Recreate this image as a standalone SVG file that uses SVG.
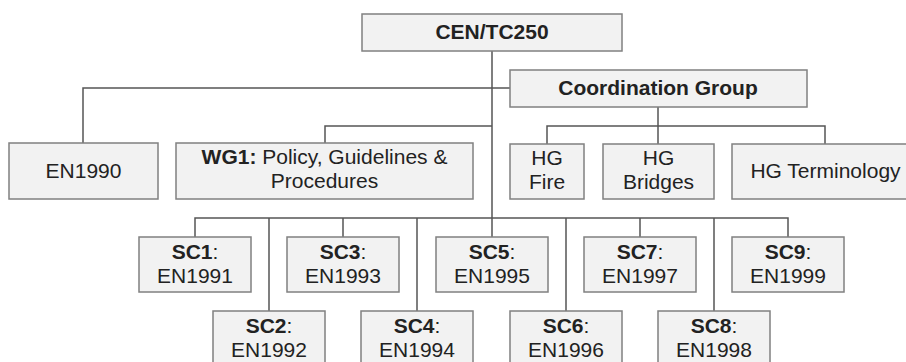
<svg xmlns="http://www.w3.org/2000/svg" width="906" height="362" viewBox="0 0 906 362">
<style>
.box{fill:#f2f2f2;stroke:#808080;stroke-width:1.5}
.c{fill:none;stroke:#555;stroke-width:1.5}
text{font-family:"Liberation Sans",Arial,sans-serif;font-size:21px;fill:#222;text-anchor:middle}
.b{font-weight:bold}
</style>
<rect width="906" height="362" fill="#fff"/>
<g id="connectors">
<path class="c" d="M492 51V237"/>
<path class="c" d="M83 143V88H510"/>
<path class="c" d="M325 143V126H492"/>
<path class="c" d="M658 107V144M547 144V126H825V144"/>
<path class="c" d="M195 237V218H788V237M269 218V311M343 218V237M417 218V311M566 218V311M640 218V237M714 218V311"/>
</g>
<g id="cen"><rect class="box" x="362" y="14" width="260" height="37"/><text class="b" x="492" y="39">CEN/TC250</text></g>
<g id="coord"><rect class="box" x="510" y="70" width="297" height="37"/><text class="b" x="658" y="95">Coordination Group</text></g>
<g id="en1990"><rect class="box" x="9" y="143" width="149" height="56"/><text x="83.5" y="178">EN1990</text></g>
<g id="wg1"><rect class="box" x="176" y="143" width="297" height="56"/><text x="324.5" y="164"><tspan class="b">WG1:</tspan> Policy, Guidelines &amp;</text><text x="324.5" y="188">Procedures</text></g>
<g id="hgfire"><rect class="box" x="510" y="144" width="74" height="55"/><text x="547" y="165">HG</text><text x="547" y="189">Fire</text></g>
<g id="hgbridges"><rect class="box" x="603" y="144" width="111" height="55"/><text x="658.5" y="165">HG</text><text x="658.5" y="189">Bridges</text></g>
<g id="hgterm"><rect class="box" x="732" y="144" width="187" height="55"/><text x="825.5" y="178">HG Terminology</text></g>
<g id="sc1"><rect class="box" x="139" y="237" width="112" height="55"/><text x="195" y="259"><tspan class="b">SC1</tspan>:</text><text x="195" y="283">EN1991</text></g>
<g id="sc2"><rect class="box" x="213" y="311" width="112" height="55"/><text x="269" y="333"><tspan class="b">SC2</tspan>:</text><text x="269" y="357">EN1992</text></g>
<g id="sc3"><rect class="box" x="287" y="237" width="112" height="55"/><text x="343" y="259"><tspan class="b">SC3</tspan>:</text><text x="343" y="283">EN1993</text></g>
<g id="sc4"><rect class="box" x="361" y="311" width="112" height="55"/><text x="417" y="333"><tspan class="b">SC4</tspan>:</text><text x="417" y="357">EN1994</text></g>
<g id="sc5"><rect class="box" x="436" y="237" width="112" height="55"/><text x="492" y="259"><tspan class="b">SC5</tspan>:</text><text x="492" y="283">EN1995</text></g>
<g id="sc6"><rect class="box" x="510" y="311" width="112" height="55"/><text x="566" y="333"><tspan class="b">SC6</tspan>:</text><text x="566" y="357">EN1996</text></g>
<g id="sc7"><rect class="box" x="584" y="237" width="112" height="55"/><text x="640" y="259"><tspan class="b">SC7</tspan>:</text><text x="640" y="283">EN1997</text></g>
<g id="sc8"><rect class="box" x="658" y="311" width="112" height="55"/><text x="714" y="333"><tspan class="b">SC8</tspan>:</text><text x="714" y="357">EN1998</text></g>
<g id="sc9"><rect class="box" x="732" y="237" width="112" height="55"/><text x="788" y="259"><tspan class="b">SC9</tspan>:</text><text x="788" y="283">EN1999</text></g>
</svg>
